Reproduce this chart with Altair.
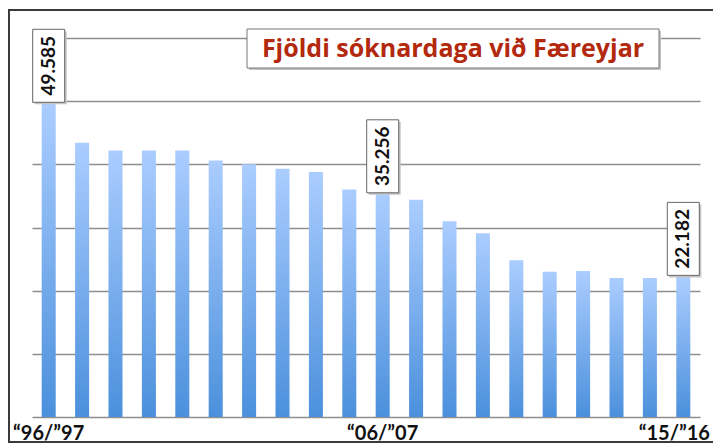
import altair as alt
import pandas as pd

seasons = ["“96/”97", "“97/”98", "“98/”99", "“99/”00", "“00/”01", "“01/”02", "“02/”03",
           "“03/”04", "“04/”05", "“05/”06", "“06/”07", "“07/”08", "“08/”09", "“09/”10",
           "“10/”11", "“11/”12", "“12/”13", "“13/”14", "“14/”15", "“15/”16"]
values = [49585, 43400, 42200, 42200, 42200, 40600, 40000, 39300, 38800, 36000,
          35256, 34400, 31000, 29100, 24800, 23000, 23100, 22000, 22000, 22182]
labelled = ["“96/”97", "“06/”07", "“15/”16"]
title_text = "Fjöldi sóknardaga við Færeyjar"
y_ticks = [0, 10000, 20000, 30000, 40000, 50000, 60000]

df = pd.DataFrame({"season": seasons, "value": values})
df["label"] = [f"{v:,}".replace(",", ".") for v in values]
lab_df = df[df["season"].isin(labelled)]

FONT = "Lato"

x_enc = alt.X("season:N", sort=seasons,
              scale=alt.Scale(paddingInner=0.58, paddingOuter=0.29),
              axis=alt.Axis(values=labelled, title=None, domain=False, ticks=False, grid=False,
                            labelAngle=0, labelFont=FONT, labelFontWeight="bold",
                            labelFontSize=20, labelColor="#111", labelPadding=6,
                            labelOffset=alt.ExprRef("datum.index == 1 ? -9 : 0")))
y_enc = alt.Y("value:Q", scale=alt.Scale(domain=[0, 60000], nice=False),
              axis=alt.Axis(values=y_ticks, title=None, labels=False, ticks=False,
                            domain=False, grid=True, gridColor="#8e8e8e", gridWidth=1.5))

base = alt.Chart(df)

bars = base.mark_bar(
    color=alt.Gradient(gradient="linear",
                       stops=[alt.GradientStop(color="#abcdff", offset=0),
                              alt.GradientStop(color="#4b90dc", offset=1)],
                       x1=0, x2=0, y1=0, y2=1)
).encode(x=x_enc, y=y_enc)

lab = alt.Chart(lab_df)
box_shadow = lab.mark_rect(width=32, height=73, yOffset=-36, xOffset=2, fill="#c4c4c4").encode(
    x=alt.X("season:N", sort=seasons), y="value:Q")
box = lab.mark_rect(width=32, height=73, yOffset=-38, fill="white", stroke="#666",
                    strokeWidth=1).encode(x=alt.X("season:N", sort=seasons), y="value:Q")
txt = lab.mark_text(angle=270, font=FONT, fontWeight="bold", fontSize=19, color="#111",
                    align="center", baseline="middle", yOffset=-38).encode(
    x=alt.X("season:N", sort=seasons), y="value:Q", text="label:N")

frame = alt.Chart(pd.DataFrame({"k": [0]})).mark_rect(
    fill=None, stroke="#3a3a3a", strokeWidth=2).encode(
    x=alt.value(-23), x2=alt.value(684), y=alt.value(-28), y2=alt.value(404))

tshadow = alt.Chart(pd.DataFrame({"k": [0]})).mark_rect(fill="#c4c4c4").encode(
    x=alt.value(217), x2=alt.value(629), y=alt.value(-7), y2=alt.value(32))
tbox = alt.Chart(pd.DataFrame({"k": [0]})).mark_rect(
    fill="white", stroke="#777", strokeWidth=1).encode(
    x=alt.value(215), x2=alt.value(627), y=alt.value(-9), y2=alt.value(30))
ttext = alt.Chart(pd.DataFrame({"t": [title_text]})).mark_text(
    font="Open Sans", fontWeight="bold", fontSize=25, color="#b3290e",
    align="center", baseline="middle").encode(
    x=alt.value(421), y=alt.value(11), text="t:N")

chart = alt.layer(bars, box_shadow, box, txt, tshadow, tbox, ttext, frame).properties(
    width=668, height=379,
    autosize=alt.AutoSizeParams(type="none"),
    padding={"left": 24, "top": 30, "right": 13, "bottom": 28},
    background="white",
).configure_view(stroke=None)

chart.save("out.html", embed_options={"renderer": "svg", "actions": False})
